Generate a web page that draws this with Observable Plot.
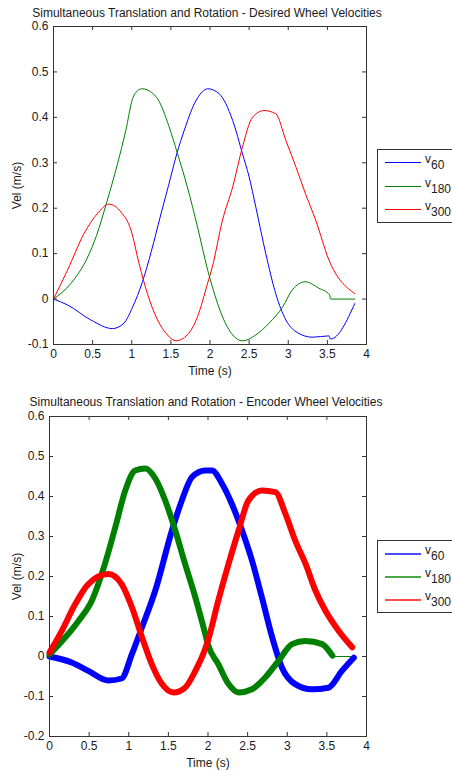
<!DOCTYPE html>
<html><head><meta charset="utf-8">
<script src="https://cdn.jsdelivr.net/npm/d3@7"></script>
<script src="https://cdn.jsdelivr.net/npm/@observablehq/plot@0.6"></script>
<style>
html,body{margin:0;padding:0;background:#fff;width:452px;height:770px;overflow:hidden;position:relative;font-family:"Liberation Sans",Arial,sans-serif;color:#1a1a1a;}
.title{position:absolute;font-size:12px;line-height:14px;white-space:nowrap;transform:translateX(-50%);}
.chart{position:absolute;left:0;}
.legend{position:absolute;left:377px;width:95px;border:1px solid #333;background:#fff;box-sizing:border-box;}
.legend .sw{position:absolute;left:7px;width:36px;}
.legend .lb{position:absolute;left:47px;font-size:12px;line-height:12px;white-space:nowrap;}
.legend .lb span{position:relative;top:6px;font-size:12px;}
</style>
</head><body>
<div id="root"></div>
<script>
// ---- axis ticks ----
const xTicks = [0, 0.5, 1, 1.5, 2, 2.5, 3, 3.5, 4];
const xTickLabels = ["0", "0.5", "1", "1.5", "2", "2.5", "3", "3.5", "4"];
const yTicksTop = [-0.1, 0, 0.1, 0.2, 0.3, 0.4, 0.5, 0.6];
const yTickLabelsTop = ["-0.1", "0", "0.1", "0.2", "0.3", "0.4", "0.5", "0.6"];
const yTicksBottom = [-0.2, -0.1, 0, 0.1, 0.2, 0.3, 0.4, 0.5, 0.6];
const yTickLabelsBottom = ["-0.2", "-0.1", "0", "0.1", "0.2", "0.3", "0.4", "0.5", "0.6"];

const seriesNames = ["60", "180", "300"];
const seriesColors = ["#0000ff", "#008000", "#ff0000"];

// ---- desired wheel velocities [time s, vel m/s] ----
const desired60 = [[0,0],[0.18,-0.013],[0.477,-0.046],[0.754,-0.065],[0.9,-0.053],[1.01,-0.018],[1.137,0.038],[1.25,0.105],[1.37,0.185],[1.47,0.25],[1.576,0.32],[1.67,0.371],[1.8,0.43],[1.9,0.456],[1.97,0.463],[2.117,0.452],[2.29,0.393],[2.415,0.32],[2.5,0.269],[2.585,0.203],[2.713,0.1],[2.84,0.012],[2.97,-0.046],[3.1,-0.072],[3.31,-0.084],[3.52,-0.081],[3.54,-0.088],[3.85,-0.01]];
const desired180 = [[0,0],[0.22,0.034],[0.43,0.09],[0.55,0.14],[0.67,0.207],[0.818,0.298],[0.924,0.371],[1.01,0.441],[1.07,0.458],[1.137,0.463],[1.25,0.455],[1.33,0.441],[1.478,0.379],[1.585,0.32],[1.71,0.247],[1.84,0.159],[1.97,0.064],[2.03,0.027],[2.16,-0.039],[2.29,-0.079],[2.415,-0.092],[2.585,-0.079],[2.755,-0.053],[2.93,-0.017],[3.05,0.02],[3.22,0.038],[3.39,0.024],[3.53,0.009],[3.54,0],[3.85,0]];
const desired300 = [[0,0],[0.18,0.064],[0.39,0.144],[0.56,0.188],[0.71,0.209],[0.86,0.192],[0.99,0.152],[1.094,0.078],[1.2,0.012],[1.33,-0.046],[1.457,-0.079],[1.563,-0.092],[1.71,-0.079],[1.84,-0.039],[1.97,0.035],[2.03,0.071],[2.16,0.174],[2.29,0.247],[2.415,0.335],[2.543,0.4],[2.69,0.415],[2.84,0.408],[2.97,0.349],[3.1,0.29],[3.22,0.232],[3.35,0.174],[3.52,0.086],[3.85,0.012]];

// ---- encoder wheel velocities [time s, vel m/s] ----
const encoder60 = [[0,0],[0.28,-0.015],[0.49,-0.036],[0.745,-0.06],[0.91,-0.055],[1.04,0.006],[1.167,0.073],[1.335,0.165],[1.545,0.315],[1.67,0.39],[1.8,0.449],[1.966,0.465],[2.05,0.465],[2.177,0.432],[2.3,0.382],[2.43,0.315],[2.555,0.24],[2.68,0.148],[2.81,0.048],[2.934,-0.028],[3.1,-0.069],[3.31,-0.082],[3.52,-0.078],[3.69,-0.036],[3.84,-0.003]];
const encoder180 = [[0,0.005],[0.2,0.048],[0.366,0.089],[0.535,0.14],[0.7,0.232],[0.83,0.323],[0.956,0.415],[1.08,0.465],[1.21,0.47],[1.335,0.445],[1.46,0.39],[1.587,0.315],[1.71,0.232],[1.84,0.148],[1.966,0.056],[2.0,0.03],[2.13,-0.019],[2.26,-0.069],[2.386,-0.09],[2.555,-0.082],[2.72,-0.053],[2.89,-0.011],[3.06,0.031],[3.23,0.039],[3.44,0.031],[3.57,0.002]];
const encoder180Tail = [[3.57,0],[3.85,0]];
const encoder300 = [[0,0.01],[0.155,0.064],[0.325,0.131],[0.49,0.181],[0.745,0.206],[0.91,0.181],[1.04,0.123],[1.167,0.048],[1.29,-0.019],[1.42,-0.069],[1.566,-0.09],[1.71,-0.078],[1.84,-0.036],[1.966,0.02],[2.0,0.04],[2.13,0.14],[2.26,0.232],[2.386,0.315],[2.51,0.39],[2.68,0.415],[2.85,0.411],[2.976,0.357],[3.1,0.29],[3.23,0.232],[3.355,0.165],[3.48,0.115],[3.65,0.064],[3.82,0.023]];

const titles = ["Simultaneous Translation and Rotation - Desired Wheel Velocities",
                "Simultaneous Translation and Rotation - Encoder Wheel Velocities"];

const root = document.getElementById("root");

function makeChart(o) {
  const W = 452, mR = 86, tk = 4;
  const plotH = o.height - o.marginTop - o.marginBottom;
  const plotW = W - o.marginLeft - mR;
  const axisColor = "#333";
  const lines = o.series.map((s, i) => Plot.line(s, {x: d => d[0], y: d => d[1], stroke: seriesColors[i], strokeWidth: o.strokeWidth, curve: "monotone-x"}));
  const extra = (o.extra || []).map(e => Plot.line(e.data, {x: d => d[0], y: d => d[1], stroke: e.color, strokeWidth: 1}));
  const svg = Plot.plot({
    width: W, height: o.height,
    marginTop: o.marginTop, marginBottom: o.marginBottom, marginLeft: o.marginLeft, marginRight: mR,
    style: {fontFamily: "'Liberation Sans', Arial, sans-serif", fontSize: "12px", color: "#1a1a1a", background: "white", overflow: "visible"},
    x: {domain: [0, 4]},
    y: {domain: o.yDomain},
    marks: [
      Plot.axisX(xTicks, {anchor: "bottom", tickSize: 0, tickPadding: 5, tickFormat: d => xTickLabels[xTicks.indexOf(d)],
        label: "Time (s)", labelAnchor: "center", labelArrow: "none", labelOffset: o.xLabelOffset}),
      Plot.axisY(o.yTicks, {anchor: "left", tickSize: 0, tickPadding: 5, tickFormat: d => o.yTickLabels[o.yTicks.indexOf(d)],
        label: "Vel (m/s)", labelAnchor: "center", labelArrow: "none", labelOffset: o.yLabelOffset}),
      ...extra,
      ...lines,
      Plot.tickX(xTicks, {x: d => d, insetTop: plotH - tk, stroke: axisColor}),
      Plot.tickX(xTicks, {x: d => d, insetBottom: plotH - tk, stroke: axisColor}),
      Plot.tickY(o.yTicks, {y: d => d, insetRight: plotW - tk, stroke: axisColor}),
      Plot.tickY(o.yTicks, {y: d => d, insetLeft: plotW - tk, stroke: axisColor}),
      Plot.frame({stroke: axisColor, strokeWidth: 1})
    ]
  });
  svg.classList.add("chart");
  svg.style.top = o.top + "px";
  root.appendChild(svg);
}

function addTitle(text, cx, cy) {
  const d = document.createElement("div");
  d.className = "title";
  d.textContent = text;
  d.style.left = cx + "px";
  d.style.top = (cy - 7) + "px";
  root.appendChild(d);
}

function addLegend(top, height, rowYs, swH, swOpacity) {
  const box = document.createElement("div");
  box.className = "legend";
  box.style.top = top + "px";
  box.style.height = height + "px";
  seriesNames.forEach((n, i) => {
    const sw = document.createElement("div");
    sw.className = "sw";
    sw.style.top = rowYs[i] + "px";
    sw.style.height = swH + "px";
    sw.style.opacity = swOpacity;
    sw.style.background = seriesColors[i];
    box.appendChild(sw);
    const lb = document.createElement("div");
    lb.className = "lb";
    lb.style.top = (rowYs[i] - 9) + "px";
    lb.innerHTML = "v<span>" + n + "</span>";
    box.appendChild(lb);
  });
  root.appendChild(box);
}

addTitle(titles[0], 207, 13);
makeChart({top: 20, height: 360, marginTop: 6, marginBottom: 36, marginLeft: 53,
  yDomain: [-0.1, 0.6], yTicks: yTicksTop, yTickLabels: yTickLabelsTop,
  series: [desired60, desired180, desired300], strokeWidth: 1, xLabelOffset: 30, yLabelOffset: 41});
addLegend(149, 74, [12, 36, 59], 1, 1);

addTitle(titles[1], 206, 402);
makeChart({top: 410, height: 360, marginTop: 6, marginBottom: 34, marginLeft: 49,
  yDomain: [-0.2, 0.6], yTicks: yTicksBottom, yTickLabels: yTickLabelsBottom,
  series: [encoder60, encoder180, encoder300], strokeWidth: 6,
  extra: [{data: encoder180Tail, color: "#008000"}], xLabelOffset: 30, yLabelOffset: 37});
addLegend(540, 73, [12, 35, 58], 2, 0.7);
</script>
</body></html>
